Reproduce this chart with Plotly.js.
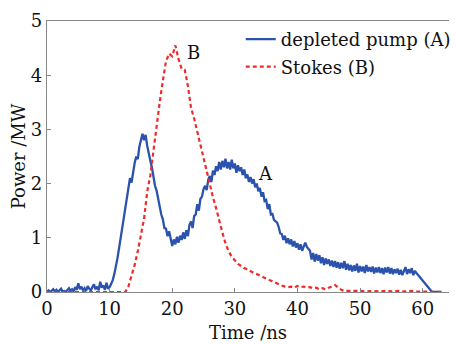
<!DOCTYPE html>
<html>
<head>
<meta charset="utf-8">
<script src="https://cdn.plot.ly/plotly-3.0.1.min.js"></script>
<style>html,body{margin:0;padding:0;background:#fff;}#chart{width:456px;height:344px;}</style>
</head>
<body>
<div id="chart"></div>
<script>
// Depleted pump (A): time (ns) and power (MW)
var pumpTime = [
  0,0.25,0.5,0.75, 1,1.25,1.5,1.75, 2,2.25,2.5,2.75, 3,3.25,3.5,3.75, 4,4.25,4.5,4.75,
  5,5.25,5.5,5.75, 6,6.25,6.5,6.75, 7,7.25,7.5,7.75, 8,8.25,8.5,8.75, 9,9.25,9.5,9.75,
  10,10.25,10.5,10.75, 11,11.25,11.5,11.75, 12,12.25,12.5,12.75, 13,13.25,13.5,13.75, 14,14.25,14.5,14.75,
  15,15.25,15.5,15.75, 16,16.25,16.5,16.75, 17,17.25,17.5,17.75, 18,18.25,18.5,18.75, 19,19.25,19.5,19.75,
  20,20.25,20.5,20.75, 21,21.25,21.5,21.75, 22,22.25,22.5,22.75, 23,23.25,23.5,23.75, 24,24.25,24.5,24.75,
  25,25.25,25.5,25.75, 26,26.25,26.5,26.75, 27,27.25,27.5,27.75, 28,28.25,28.5,28.75, 29,29.25,29.5,29.75,
  30,30.25,30.5,30.75, 31,31.25,31.5,31.75, 32,32.25,32.5,32.75, 33,33.25,33.5,33.75, 34,34.25,34.5,34.75,
  35,35.25,35.5,35.75, 36,36.25,36.5,36.75, 37,37.25,37.5,37.75, 38,38.25,38.5,38.75, 39,39.25,39.5,39.75,
  40,40.25,40.5,40.75, 41,41.25,41.5,41.75, 42,42.25,42.5,42.75, 43,43.25,43.5,43.75, 44,44.25,44.5,44.75,
  45,45.25,45.5,45.75, 46,46.25,46.5,46.75, 47,47.25,47.5,47.75, 48,48.25,48.5,48.75, 49,49.25,49.5,49.75,
  50,50.25,50.5,50.75, 51,51.25,51.5,51.75, 52,52.25,52.5,52.75, 53,53.25,53.5,53.75, 54,54.25,54.5,54.75,
  55,55.25,55.5,55.75, 56,56.25,56.5,56.75, 57,57.25,57.5,57.75, 58,58.25,58.5,58.75, 59,61.5,63];
var pumpPower = [
  0.00,0.03,0.00,0.02, 0.05,0.01,0.04,0.00, 0.03,0.06,0.01,0.02, 0.00,0.04,0.07,0.02, 0.05,0.01,0.09,0.04,
  0.16,0.05,0.10,0.03, 0.07,0.02,0.11,0.06, 0.03,0.09,0.14,0.05, 0.10,0.03,0.19,0.08, 0.12,0.04,0.17,0.06,
  0.09,0.15,0.22,0.33, 0.45,0.62,0.80,0.98, 1.15,1.35,1.52,1.78, 1.95,2.10,2.02,2.25, 2.38,2.50,2.45,2.68,
  2.80,2.92,2.80,2.90, 2.70,2.52,2.42,2.30, 2.12,1.96,1.87,1.70, 1.60,1.43,1.34,1.18, 1.17,1.03,1.12,0.96,
  0.85,0.97,0.88,1.02, 0.91,1.04,0.96,1.10, 0.98,1.14,1.03,1.24, 1.30,1.18,1.40,1.43, 1.62,1.50,1.72,1.76,
  1.90,1.96,1.88,2.07, 2.14,2.03,2.24,2.16, 2.32,2.23,2.40,2.26, 2.42,2.30,2.46,2.28, 2.40,2.26,2.44,2.28,
  2.37,2.20,2.34,2.23, 2.30,2.16,2.26,2.10, 2.17,2.03,2.12,2.00, 2.08,1.93,2.00,1.86, 1.92,1.76,1.84,1.68,
  1.70,1.53,1.62,1.43, 1.44,1.33,1.30,1.28, 1.20,1.08,1.07,0.96, 1.04,0.90,0.99,0.88, 0.97,0.84,0.94,0.82,
  0.90,0.78,0.88,0.76, 0.84,0.91,0.83,0.79, 0.76,0.60,0.72,0.56, 0.70,0.58,0.68,0.53, 0.64,0.50,0.62,0.52,
  0.60,0.48,0.58,0.46, 0.57,0.45,0.55,0.43, 0.54,0.44,0.57,0.41, 0.52,0.40,0.50,0.38, 0.49,0.39,0.52,0.36,
  0.48,0.38,0.47,0.35, 0.50,0.38,0.46,0.37, 0.47,0.34,0.45,0.36, 0.46,0.35,0.44,0.33, 0.45,0.36,0.46,0.34,
  0.44,0.33,0.42,0.35, 0.43,0.32,0.41,0.31, 0.39,0.46,0.33,0.42, 0.35,0.44,0.31,0.39, 0.35,0.00,0.00];

// Stokes (B): time (ns) and power (MW)
var stokesTime = [0,0.5,1,1.5,2,2.5,3,3.5,4,4.5,5,5.5,6,6.5,7,7.5,8,8.5,9,9.5,
  10,10.5,11,11.5,12,12.5,13,13.5,14,14.5,15,15.5,16,16.5,17,17.5,18,18.5,19,19.5,
  20,20.5,21,21.5,22,22.5,23,23.5,24,24.5,25,25.5,26,26.5,27,27.5,28,28.5,29,29.5,
  30,30.5,31,31.5,32,32.5,33,33.5,34,34.5,35,35.5,36,36.5,37,37.5,38,38.5,39,39.5,
  40,40.5,41,41.5,42,42.5,43,43.5,44,44.5,45,45.5,46,46.5,47,47.5,48,49,50,51,52,53,54,55,56,57,58,59,60,61,62,63];
var stokesPower = [0,0,0,0,0,0,0,0,0,0,0,0,0,0,0,0,0,0,0,0,
  0,0,0,0,0,0,0.10,0.30,0.50,0.75,1.05,1.35,1.85,2.15,2.60,3.10,3.50,3.90,4.25,4.40,
  4.35,4.55,4.30,4.12,4.10,3.80,3.40,3.20,2.95,2.75,2.50,2.20,1.95,1.75,1.55,1.30,1.10,0.90,0.75,0.65,
  0.58,0.52,0.48,0.44,0.42,0.38,0.35,0.33,0.30,0.28,0.25,0.22,0.20,0.17,0.14,0.12,0.10,0.09,0.10,0.08,
  0.11,0.09,0.10,0.08,0.09,0.07,0.08,0.05,0.07,0.05,0.08,0.10,0.13,0.08,0.04,0.02,0.02,0.03,0.02,0.01,0.02,0.01,0.02,0.01,0.02,0.01,0.02,0.01,0.01,0.00,0.01,0.00];

var xTicks = [0,10,20,30,40,50,60];
var yTicks = [0,1,2,3,4,5];
var seriesNames = ['depleted pump (A)', 'Stokes (B)'];
var labelA = {t: 34.9, p: 2.19, text: 'A'};
var labelB = {t: 23.4, p: 4.41, text: 'B'};

var FONT = 'DejaVu Serif, serif';
var FS = 18;
var traces = [
  {x: pumpTime, y: pumpPower, name: seriesNames[0], legendgroup: 'a', type: 'scatter', mode: 'lines',
   line: {color: '#2b52ad', width: 2.3}},
  {x: stokesTime, y: stokesPower, name: seriesNames[1], legendgroup: 'b', type: 'scatter', mode: 'lines',
   line: {color: '#f02a2a', width: 2.2, dash: '4px,3px'}}
];
var layout = {
  width: 456, height: 344,
  margin: {l: 47, r: 0, t: 21, b: 52},
  paper_bgcolor: '#fff', plot_bgcolor: '#fff',
  font: {family: FONT, size: FS, color: '#111'},
  showlegend: true,
  legend: {x: 0.482, y: 1.0, xanchor: 'left', yanchor: 'top', bgcolor: 'rgba(0,0,0,0)',
           traceorder: 'grouped', tracegroupgap: 1,
           font: {family: FONT, size: FS, color: '#111'}, itemwidth: 30},
  xaxis: {range: [0, 64.2], tickvals: xTicks, ticktext: xTicks.map(String), ticks: 'inside', ticklen: 4,
          tickcolor: '#888', showline: true, linecolor: '#888', linewidth: 1.2, mirror: true,
          showgrid: false, zeroline: false, tickfont: {family: FONT, size: FS},
          title: {text: 'Time /ns', font: {family: FONT, size: FS}, standoff: 8}},
  yaxis: {range: [0, 5], tickvals: yTicks, ticktext: yTicks.map(String), ticks: 'inside', ticklen: 4,
          tickcolor: '#888', showline: true, linecolor: '#888', linewidth: 1.2, mirror: false,
          showgrid: false, zeroline: false, tickfont: {family: FONT, size: FS},
          title: {text: 'Power /MW', font: {family: FONT, size: FS}, standoff: 0}},
  annotations: [
    {x: labelA.t, y: labelA.p, text: labelA.text, showarrow: false, font: {family: FONT, size: FS, color: '#111'}},
    {x: labelB.t, y: labelB.p, text: labelB.text, showarrow: false, font: {family: FONT, size: FS, color: '#111'}}
  ]
};
Plotly.newPlot('chart', traces, layout, {displayModeBar: false, staticPlot: true});
</script>
</body>
</html>
